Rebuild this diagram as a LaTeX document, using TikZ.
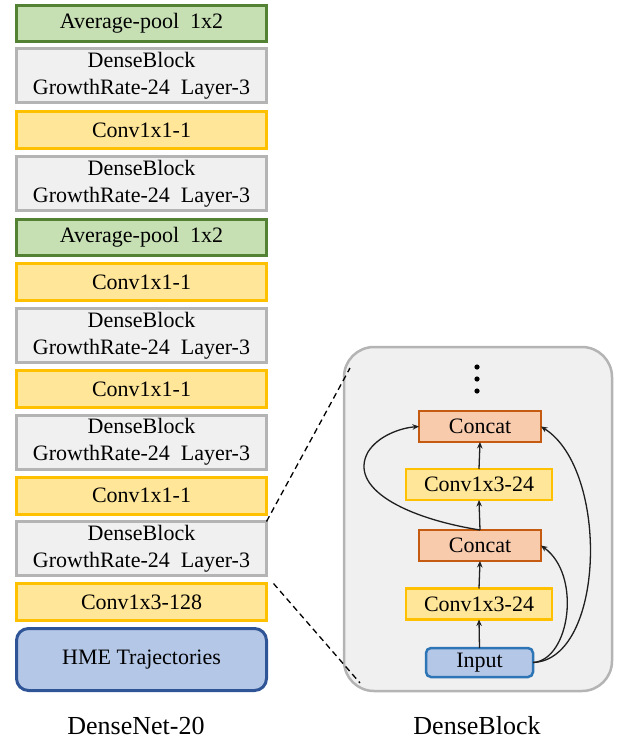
\documentclass[tikz,border=0pt]{standalone}
\usepackage{fontspec}
\setmainfont{Liberation Serif}
\newfontfamily\tnr{Liberation Serif}
\usetikzlibrary{arrows.meta}

\definecolor{poolfill}{HTML}{C6E0B4}
\definecolor{pooldraw}{HTML}{548235}
\definecolor{dbfill}{HTML}{F0F0F0}
\definecolor{dbdraw}{HTML}{B4B4B4}
\definecolor{convfill}{HTML}{FFE699}
\definecolor{convdraw}{HTML}{FFC000}
\definecolor{hmefill}{HTML}{B4C7E7}
\definecolor{hmedraw}{HTML}{2F5597}
\definecolor{catfill}{HTML}{F8CBAD}
\definecolor{catdraw}{HTML}{C55A11}
\definecolor{indraw}{HTML}{2E75B6}
\definecolor{ink}{rgb}{0.12,0.12,0.12}

\tikzset{
  lbox/.style={draw, line width=3pt, minimum width=250pt, inner sep=0pt, outer sep=0pt,
    align=center, font=\tnr\fontsize{22}{27}\selectfont},
  poolbox/.style={lbox, fill=poolfill, draw=pooldraw, minimum height=36pt},
  densebox/.style={lbox, fill=dbfill, draw=dbdraw, minimum height=54pt},
  convbox/.style={lbox, fill=convfill, draw=convdraw, minimum height=37pt},
  hmebox/.style={lbox, fill=hmefill, draw=hmedraw, minimum height=62pt, rounded corners=12pt},
  rbox/.style={draw, inner sep=0pt, outer sep=0pt, font=\tnr\fontsize{22}{27}\selectfont},
  catbox/.style={rbox, fill=catfill, draw=catdraw, line width=2.5pt, minimum width=122pt, minimum height=31pt},
  cvbox/.style={rbox, fill=convfill, draw=convdraw, line width=2.5pt, minimum width=146pt, minimum height=31pt},
  inbox/.style={rbox, fill=hmefill, draw=indraw, line width=2.5pt, minimum width=107pt, minimum height=29pt, rounded corners=5pt},
  flow/.style={line width=1.3pt, draw=ink, -{Stealth[length=6.5pt,width=5.5pt]}},
  zoomline/.style={line width=1.3pt, dash pattern=on 6pt off 4pt, draw=black},
  caption/.style={font=\tnr\fontsize{26}{30}\selectfont}
}

\begin{document}
\begin{tikzpicture}[x=1pt, y=-1pt]
\useasboundingbox (0,0) rectangle (624,744);

% DenseNet-20 column
\node[poolbox]  (p1)  at (141.5, 23.5)  {Average-pool\ \ 1x2};
\node[densebox] (d1)  at (141.5, 75.5)  {DenseBlock\\GrowthRate-24\ \ Layer-3};
\node[convbox]  (c1)  at (141.5, 130)   {Conv1x1-1};
\node[densebox] (d2)  at (141.5, 183.5) {DenseBlock\\GrowthRate-24\ \ Layer-3};
\node[poolbox]  (p2)  at (141.5, 237.5) {Average-pool\ \ 1x2};
\node[convbox]  (c2)  at (141.5, 282)   {Conv1x1-1};
\node[densebox] (d3)  at (141.5, 335.5) {DenseBlock\\GrowthRate-24\ \ Layer-3};
\node[convbox]  (c3)  at (141.5, 389)   {Conv1x1-1};
\node[densebox] (d4)  at (141.5, 442)   {DenseBlock\\GrowthRate-24\ \ Layer-3};
\node[convbox]  (c4)  at (141.5, 495.5) {Conv1x1-1};
\node[densebox] (d5)  at (141.5, 548.5) {DenseBlock\\GrowthRate-24\ \ Layer-3};
\node[convbox]  (c5)  at (141.5, 602)   {Conv1x3-128};
\node[hmebox]   (hme) at (141.5, 659.5) {HME Trajectories};
\node[caption]  (cap1) at (136, 726) {DenseNet-20};

% DenseBlock detail panel
\node[draw=dbdraw, fill=dbfill, line width=2.5pt, rounded corners=30pt,
      minimum width=268pt, minimum height=344pt, inner sep=0pt] (panel) at (478, 519) {};
\node[caption] (cap2) at (477, 726) {DenseBlock};

\foreach \yy in {367,379,391} \fill[black] (477,\yy) circle (2.6pt);

\node[catbox] (cat2) at (480, 426.5) {Concat};
\node[cvbox]  (cv2)  at (479, 484.5) {Conv1x3-24};
\node[catbox] (cat1) at (480, 545.5) {Concat};
\node[cvbox]  (cv1)  at (479, 604)   {Conv1x3-24};
\node[inbox]  (in)   at (479.5, 662.5) {Input};

% main path
\draw[flow] (in.north) -- (cv1.south);
\draw[flow] (cv1.north) -- (cat1.south);
\draw[flow] (cat1.north) -- (cv2.south);
\draw[flow] (cv2.north) -- (cat2.south);

% dense skip connections
\draw[flow] (cat1.north) .. controls (405,518) and (348,488) .. (368,452)
            .. controls (378,436) and (400,428) .. (cat2.west);
\draw[flow] (in.east) .. controls (570,660) and (582,575) .. (cat1.east);
\draw[flow] (in.east) .. controls (605,660) and (610,470) .. (cat2.east);

% zoom guides from the last DenseBlock to the panel
\coordinate (zt) at (350,368);
\coordinate (zb) at (360,683);
\draw[zoomline] (d5.north east) -- (zt);
\draw[zoomline] ([xshift=7pt]c5.north east) -- (zb);
\end{tikzpicture}
\end{document}
